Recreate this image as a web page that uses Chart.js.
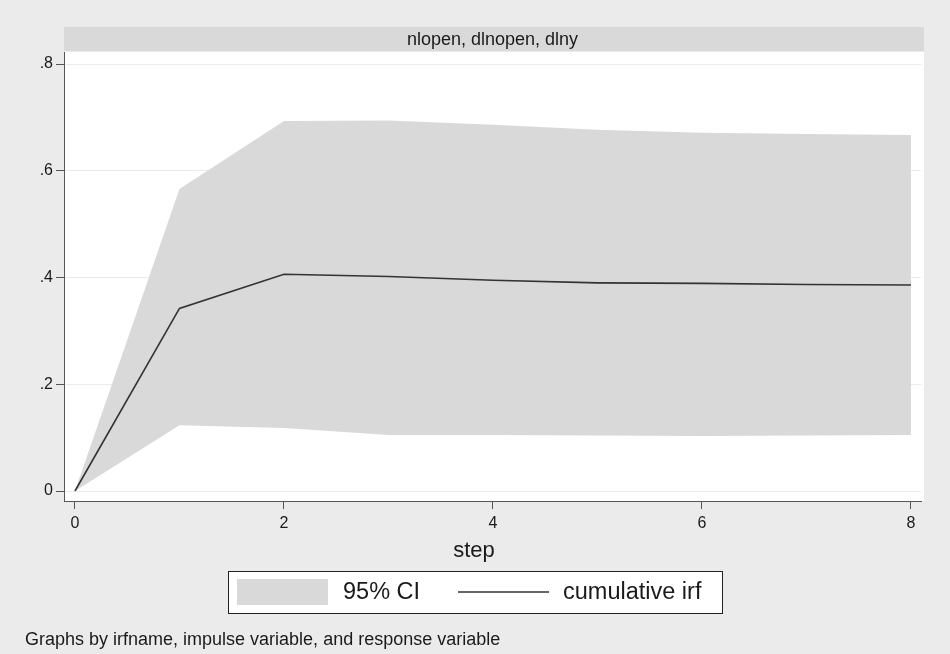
<!DOCTYPE html>
<html>
<head>
<meta charset="utf-8">
<script src="https://cdn.jsdelivr.net/npm/chart.js@4.4.1/dist/chart.umd.min.js"></script>
<style>
  html, body { margin: 0; padding: 0; background: #ebebeb; }
  #wrap { width: 950px; height: 654px; }
</style>
</head>
<body>
<div id="wrap"><canvas id="irf-chart" width="950" height="654"></canvas></div>
<script>
// values
const steps = [0, 1, 2, 3, 4, 5, 6, 7, 8];
const irf = [0, 0.342, 0.406, 0.402, 0.395, 0.390, 0.389, 0.387, 0.386];
const ciUpper = [0, 0.566, 0.693, 0.694, 0.686, 0.677, 0.671, 0.669, 0.667];
const ciLower = [0, 0.123, 0.118, 0.105, 0.105, 0.104, 0.103, 0.104, 0.105];

const xTicks = [0, 2, 4, 6, 8];
const yTicks = [0, 0.2, 0.4, 0.6, 0.8];

const panelTitle = 'nlopen, dlnopen, dlny';
const xTitle = 'step';
const legendLabels = ['95% CI', 'cumulative irf'];
const footNote = 'Graphs by irfname, impulse variable, and response variable';

const bandColor = '#d9d9d9';
const lineColor = '#333333';
const axisColor = '#555555';
const textColor = '#1a1a1a';
const fontFamily = '"Liberation Sans", Arial, sans-serif';

const toPoints = (ys) => steps.map((s, i) => ({ x: s, y: ys[i] }));

// white plot region, title strip, axis title, legend box and note
const panelPlugin = {
    id: 'panel',
    beforeDraw: (chart) => {
        const { ctx, chartArea } = chart;
        ctx.save();
        ctx.fillStyle = '#ffffff';
        ctx.fillRect(chartArea.left, chartArea.top, chartArea.right - chartArea.left + 3, chartArea.bottom - chartArea.top);
        // title strip
        ctx.fillStyle = '#d9d9d9';
        ctx.fillRect(chartArea.left, 27, chartArea.right - chartArea.left + 3, 24);
        ctx.fillStyle = textColor;
        ctx.font = '18px ' + fontFamily;
        ctx.textAlign = 'center';
        ctx.textBaseline = 'middle';
        ctx.fillText(panelTitle, (chartArea.left + chartArea.right) / 2, 40);
        ctx.restore();
    },
    afterDraw: (chart) => {
        const { ctx } = chart;
        ctx.save();
        // x axis title
        ctx.fillStyle = textColor;
        ctx.font = '22px ' + fontFamily;
        ctx.textAlign = 'center';
        ctx.textBaseline = 'middle';
        ctx.fillText(xTitle, 474, 551);
        // legend box
        ctx.fillStyle = '#ffffff';
        ctx.fillRect(228, 571, 494, 42);
        ctx.strokeStyle = '#222';
        ctx.lineWidth = 1;
        ctx.strokeRect(228.5, 571.5, 494, 42);
        ctx.fillStyle = bandColor;
        ctx.fillRect(237, 579, 91, 26);
        ctx.strokeStyle = lineColor;
        ctx.lineWidth = 1.6;
        ctx.beginPath();
        ctx.moveTo(458, 592);
        ctx.lineTo(549, 592);
        ctx.stroke();
        ctx.fillStyle = textColor;
        ctx.font = '23.5px ' + fontFamily;
        ctx.textAlign = 'left';
        ctx.fillText(legendLabels[0], 343, 593);
        ctx.fillText(legendLabels[1], 563, 593);
        // footnote
        ctx.font = '18px ' + fontFamily;
        ctx.fillText(footNote, 25, 640);
        ctx.restore();
    }
};

new Chart(document.getElementById('irf-chart'), {
    type: 'line',
    data: {
        datasets: [
            {
                label: 'cumulative irf',
                data: toPoints(irf),
                borderColor: lineColor,
                borderWidth: 1.6,
                pointRadius: 0,
                fill: false,
                tension: 0,
                order: 0,
            },
            {
                label: 'lower',
                data: toPoints(ciLower),
                borderWidth: 0,
                borderColor: 'rgba(0,0,0,0)',
                pointRadius: 0,
                fill: false,
                order: 2,
            },
            {
                label: '95% CI',
                data: toPoints(ciUpper),
                borderWidth: 0,
                borderColor: 'rgba(0,0,0,0)',
                backgroundColor: bandColor,
                pointRadius: 0,
                fill: 1,
                order: 1,
            },
        ],
    },
    options: {
        responsive: false,
        animation: false,
        events: [],
        layout: { padding: { top: 52, right: 29, bottom: 88, left: 0 } },
        plugins: {
            legend: { display: false },
            tooltip: { enabled: false },
        },
        scales: {
            x: {
                type: 'linear',
                min: -0.105,
                max: 8.096,
                afterBuildTicks: (scale) => { scale.ticks = xTicks.map((v) => ({ value: v })); },
                afterFit: (scale) => { scale.height = 65; },
                grid: { drawOnChartArea: false, drawTicks: true, tickLength: 8, tickColor: axisColor },
                border: { display: true, color: axisColor, width: 1 },
                ticks: {
                    color: textColor,
                    font: { family: fontFamily, size: 16 },
                    padding: 5,
                    maxRotation: 0,
                },
            },
            y: {
                type: 'linear',
                min: -0.0187,
                max: 0.8225,
                afterBuildTicks: (scale) => { scale.ticks = yTicks.map((v) => ({ value: v })); },
                afterFit: (scale) => { scale.width = 64; },
                grid: { color: '#ebebeb', lineWidth: 1, drawTicks: true, tickLength: 8, tickColor: axisColor },
                border: { display: true, color: axisColor, width: 1 },
                ticks: {
                    color: textColor,
                    font: { family: fontFamily, size: 16 },
                    padding: 3,
                    callback: (v) => (v === 0 ? '0' : String(v.toFixed(1)).replace(/^0/, '')),
                },
            },
        },
    },
    plugins: [panelPlugin],
});
</script>
</body>
</html>
